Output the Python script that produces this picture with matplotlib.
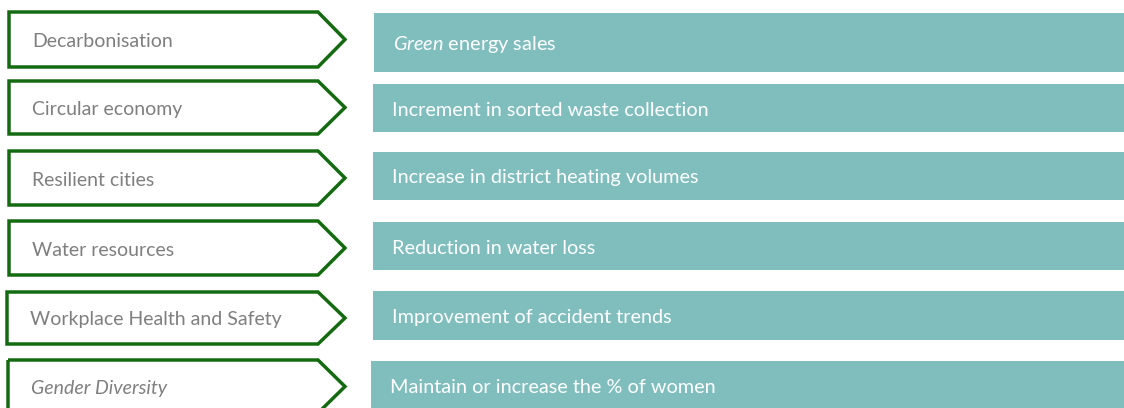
import matplotlib
matplotlib.use('Agg')
import matplotlib.pyplot as plt
from matplotlib.patches import Polygon, Rectangle

themes = ['Decarbonisation', 'Circular economy', 'Resilient cities', 'Water resources',
          'Workplace Health and Safety', 'Gender Diversity']
theme_italic = [False, False, False, False, False, True]
targets = ['$\\it{Green}$ energy sales', 'Increment in sorted waste collection',
           'Increase in district heating volumes', 'Reduction in water loss',
           'Improvement of accident trends', 'Maintain or increase the % of women']

# layout in pixels (top, bottom) of each row
arrow_rows = [(12, 67), (81, 134), (151, 205), (221, 275), (292, 344), (360, 413)]
arrow_left = [9, 9, 9, 9, 7, 8]
box_rows = [(13, 72), (84, 132), (152, 200), (222, 270), (291, 340), (361, 410)]
box_left = [374, 373, 373, 373, 373, 371]

green = '#146a10'
teal = '#80bebe'
grey = '#7f7f7f'

plt.rcParams['font.family'] = ['Lato', 'DejaVu Sans']
plt.rcParams['mathtext.fontset'] = 'custom'
plt.rcParams['mathtext.it'] = 'Lato:italic'
plt.rcParams['mathtext.rm'] = 'Lato'

fig = plt.figure(figsize=(11.24, 4.08), dpi=100)
ax = fig.add_axes([0, 0, 1, 1])
ax.set_xlim(0, 1124)
ax.set_ylim(408, 0)
ax.axis('off')

for i, name in enumerate(themes):
    top, bot = arrow_rows[i]
    x0 = arrow_left[i]
    mid = (top + bot) / 2
    pts = [(x0, top), (318, top), (345, mid), (318, bot), (x0, bot)]
    ax.add_patch(Polygon(pts, closed=True, fill=False, edgecolor=green, linewidth=2.5,
                         joinstyle='miter'))
    ax.text(x0 + 23, mid + 2, name, color=grey, fontsize=14, va='center', ha='left',
            style='italic' if theme_italic[i] else 'normal')

for i, t in enumerate(targets):
    top, bot = box_rows[i]
    x0 = box_left[i]
    ax.add_patch(Rectangle((x0, top), 1124 - x0, bot - top, facecolor=teal, edgecolor='none'))
    ax.text(x0 + 19, (top + bot) / 2 + 2, t, color='white', fontsize=14.3, va='center', ha='left')

fig.savefig('out.png', dpi=100)
